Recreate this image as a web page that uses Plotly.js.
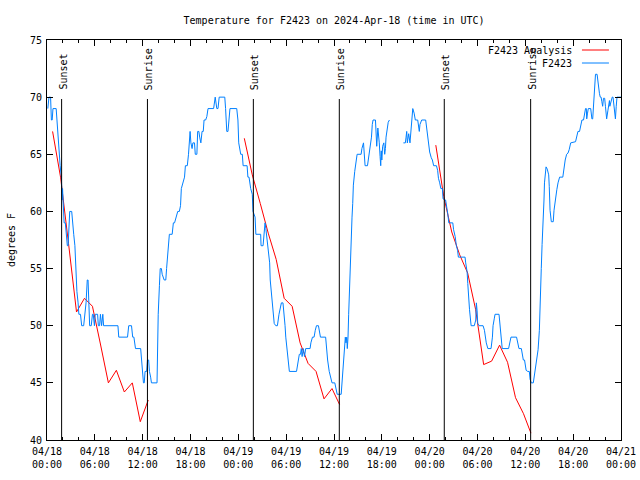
<!DOCTYPE html>
<html>
<head>
<meta charset="utf-8">
<script src="https://cdn.plot.ly/plotly-3.0.1.min.js"></script>
<style>html,body{margin:0;padding:0;background:#fff;}#chart{width:640px;height:480px;}</style>
</head>
<body>
<div id="chart"></div>
<script>
// Observed temperature (F2423), hours after 2024-04-18 00:00 UTC
const blueHours = [0.1,0.25,0.45,0.55,0.65,0.75,1.15,1.25,1.4,1.5,1.65,1.8,1.9,1.95,2.05,2.15,2.3,2.4,2.55,2.65,2.75,2.85,3.1,3.2,3.35,3.5,3.6,3.75,3.9,4.0,4.2,4.35,4.6,4.75,4.9,5.05,5.15,5.25,5.35,5.55,5.7,5.8,5.95,6.05,6.35,6.44,6.6,6.7,6.85,7.0,7.1,8.9,9.0,10.1,10.25,10.6,10.75,10.9,11.1,11.75,11.85,12.0,12.1,12.2,12.3,12.5,12.6,12.75,12.85,13.0,13.1,13.8,13.85,13.95,14.1,14.2,14.35,14.45,14.7,14.9,15.0,15.1,15.25,15.35,15.7,15.85,16.0,16.2,16.4,16.6,16.75,16.85,17.05,17.25,17.36,17.6,17.75,17.95,18.05,18.2,18.3,18.5,18.6,18.8,18.9,19.05,19.15,19.3,19.45,19.6,19.7,19.9,20.05,20.2,20.9,21.1,21.3,21.45,21.6,22.3,22.4,22.55,22.7,22.8,22.95,23.8,23.95,24.05,24.2,24.3,24.5,24.6,25.1,25.2,25.34,25.4,25.55,25.75,25.84,26.1,26.2,26.8,26.85,27.1,27.2,27.35,27.45,27.55,27.76,27.93,28.0,28.2,28.35,28.5,28.7,28.9,29.1,29.27,29.4,29.6,29.77,29.86,29.95,30.1,30.27,30.4,31.3,31.4,31.5,31.65,31.8,31.9,32.0,32.15,32.3,32.45,33.0,33.1,33.3,33.5,33.65,33.8,34.05,34.2,34.3,34.95,35.05,35.2,35.4,35.6,35.75,36.1,36.25,36.4,36.9,37.0,37.1,37.17,37.25,37.34,37.42,37.5,37.6,37.67,37.76,37.84,37.93,38.0,38.1,38.26,38.35,38.43,38.6,38.76,38.9,39.4,39.5,39.7,39.8,39.9,40.2,40.35,40.5,40.7,40.8,40.9,41.2,41.28,41.36,41.5,41.58,41.68,41.78,41.86,41.93,42.0,42.1,42.25,42.36,42.45,42.53,42.62,42.8,42.95,43.8,44.7,44.95,45.04,45.12,45.2,45.37,45.53,45.7,45.88,46.05,46.2,46.5,46.6,46.7,46.78,47.0,47.5,47.67,47.84,48.0,48.2,48.34,48.5,48.85,49.0,49.1,49.26,49.4,49.6,49.68,50.0,50.18,50.27,50.4,50.9,51.0,51.2,51.35,51.5,51.6,52.44,52.52,52.7,52.78,52.86,53.0,53.2,53.6,53.78,53.86,53.95,54.03,54.2,54.7,54.87,54.95,55.1,55.3,55.7,55.87,55.95,56.1,56.2,56.7,56.8,56.96,57.1,57.9,58.05,58.2,58.9,59.05,59.2,59.5,59.65,59.75,59.9,60.0,60.1,60.3,60.5,60.6,60.75,61.0,61.1,61.17,61.35,61.5,61.6,61.76,61.84,62.0,62.1,62.26,62.34,62.4,62.6,62.75,62.93,63.0,63.1,63.26,63.5,63.6,63.8,63.95,64.1,64.3,64.7,64.85,65.0,65.18,65.35,65.5,65.69,66.3,66.45,66.6,66.8,66.95,67.1,67.3,67.45,67.55,67.65,67.7,67.8,67.9,68.2,68.35,68.45,68.6,68.7,68.8,69.0,69.1,69.3,69.4,69.5,69.6,69.7,69.8,69.95,70.05,70.2,70.35,70.45,70.55,70.6,70.8,70.9,71.0,71.2,71.3,71.4,71.5,72.0];
const blueTemps = [69,70,70,68,68,69,69,68,66,65,64,63,61,62,60,59,59,58,57,57,59,60,60,59,58,57,55,53,52,51,51,50,50,51,52,54,54,52,50,50,51,51,50,51,51,50,50,51,50,51,50,50,49,49,50,50,49,49,48,48,47,45.5,45,45,46,46,47,47,46,45.5,45,45,48,51,53.5,55,55,54.5,54,54,55,56,57,58,58,59,59,59.5,60,60,60.5,62,62.5,63,64,64,65,67,66,65.5,66,66,65,65,67,67,66.5,66,67,67,68,68,68.3,69,69,70,69,69,70,70,69,67,67,68,69,69,68,66,65.5,65,65,64,64,63,63,62.5,62,61.5,60,59.5,58,58,57,57,58,59,58.5,57.8,56.3,55.5,54,52.5,51,50.2,50,50,51,51.5,52,52,51,50,49,48,46.7,46,46,46.5,47,47.5,47.5,48,47.3,48,47.3,48,48,48.5,49,49,49.6,50,50,49.5,49,49,48,47,46,45.3,45,45,44.5,44,44,45,45.5,46.7,47.6,48.5,49,48.5,49,48,49,51,53,55.8,57.8,59.5,60.7,62.3,63.5,64.5,65,65,65.5,66,64.8,64,64,64.8,65.5,66.5,67.6,68,68,66.5,65.7,67.3,66.8,66,64.8,64,65.3,64.5,65.7,66,65,65.5,66.5,67,67.8,68,null,66,66,66.5,67,66,66.8,66,67.7,69,68.6,68,68,67.4,67,67.6,68,68,67.1,66.2,65.2,64.7,64.5,64,64,63.6,62.9,62.5,62,62,61.1,61,60.4,59.8,59,59,58.4,57.8,57,56.6,56,56,55.5,54.7,53.7,52.4,51.4,50,50,50.5,52,51.3,50.2,50,50,49.6,49,48.5,48,48,49,50,50.6,51,51,50.2,49,48,48,48.5,49,49,48.5,48,48,47.5,47,47,46.5,46.1,46,46,45.3,45,45,45.5,46,46.7,47.3,47.9,49.6,52.5,55,57.1,59,61,62.5,63.9,63.7,63.2,62.2,60.1,59.1,59.1,60.1,61.3,61.9,62.5,63,63,63.9,64.5,65,65.1,65.4,66,66.1,66.7,67,67,67.6,68,68,68.6,69,69,68.1,68.6,69,69,68.1,68.1,69.5,71.2,72,72,71.2,70.3,70,70,69.6,69.2,69.9,69.9,69.2,68.1,68.8,69.5,69.7,69.2,69.9,70,70,69,68.1,69.2,70,70];

// Analysis (red), hours after 2024-04-18 00:00 UTC; null separates nights
const redHours = [0.7,1.7,2.7,3.7,4.7,5.7,6.7,7.7,8.7,9.7,10.7,11.7,12.7,18.0,24.75,25.75,26.75,27.75,28.75,29.75,30.75,31.75,32.75,33.75,34.75,35.75,36.7,42.0,48.77,49.77,50.77,51.77,52.77,53.77,54.77,55.77,56.77,57.77,58.77,59.77,60.7];
const redTemps = [67.0,63.0,57.2,51.2,52.4,51.7,48.4,45.0,46.1,44.2,45.0,41.6,43.5,null,66.4,63.2,60.7,58.1,55.8,52.4,51.7,48.5,46.7,46.0,43.6,44.5,43.1,null,65.8,61.3,58.2,56.2,54.6,51.4,46.6,46.9,48.3,46.8,43.7,42.3,40.6];

const sunsetTimes = ['2024-04-18 01:50','2024-04-19 01:53','2024-04-20 01:50'];
const sunriseTimes = ['2024-04-18 12:36','2024-04-19 12:40','2024-04-20 12:40'];

const seriesNames = ['F2423 Analysis','F2423'];
const seriesColors = ['#ff0000','#0080ff'];

function hToDate(h){
  const d = new Date(Date.UTC(2024,3,18) + Math.round(h*3600000));
  return d.toISOString().replace('T',' ').slice(0,19);
}

const FONT = 'DejaVu Sans Mono, Liberation Mono, monospace';

const traces = [
  {x: redHours.map(hToDate), y: redTemps, type:'scatter', mode:'lines', name: seriesNames[0],
   line:{color: seriesColors[0], width:1}, connectgaps:false, showlegend:false},
  {x: blueHours.map(hToDate), y: blueTemps, type:'scatter', mode:'lines', name: seriesNames[1],
   line:{color: seriesColors[1], width:1}, connectgaps:false, showlegend:false}
];

const shapes = [];
const annotations = [];
const lineTop = 0.8525;
function addSun(t, label){
  shapes.push({type:'line', xref:'x', yref:'paper', x0:t, x1:t, y0:0, y1:lineTop, line:{color:'#000', width:1}});
  annotations.push({x:t, xref:'x', y:0.87, yref:'paper', text:label, showarrow:false, textangle:-90,
    xanchor:'center', yanchor:'bottom', xshift:1, font:{family:FONT, size:10, color:'#000'}});
}
sunsetTimes.forEach(t=>addSun(t,'Sunset'));
sunriseTimes.forEach(t=>addSun(t,'Sunrise'));

// gnuplot-style legend: text then sample line at right
const legY = [0.975, 0.9425];
seriesNames.forEach((n,i)=>{
  annotations.push({x:0.918, xref:'paper', y:legY[i], yref:'paper', text:n, showarrow:false,
    xanchor:'right', yanchor:'middle', font:{family:FONT, size:10, color:'#000'}});
  shapes.push({type:'line', xref:'paper', yref:'paper', x0:0.932, x1:0.979, y0:legY[i], y1:legY[i],
    line:{color:seriesColors[i], width:1}});
});

const layout = {
  width:640, height:480,
  margin:{l:47, r:19, t:40, b:40},
  paper_bgcolor:'#fff', plot_bgcolor:'#fff',
  font:{family:FONT, size:10, color:'#000'},
  title:{text:'Temperature for F2423 on 2024-Apr-18 (time in UTC)', x:0.522, xanchor:'center', y:0.958, yanchor:'middle',
    font:{family:FONT, size:10, color:'#000'}},
  showlegend:false,
  xaxis:{type:'date', range:['2024-04-18 00:00','2024-04-21 00:00'], dtick:21600000, tick0:'2024-04-18 00:00',
    tickformat:'%m/%d<br>%H:%M', ticks:'inside', ticklen:6, tickcolor:'#000', showline:true, linecolor:'#000', linewidth:1,
    mirror:'ticks', showgrid:false, zeroline:false, tickfont:{family:FONT, size:10, color:'#000'}, ticklabelstandoff:2,
    minor:{dtick:7200000, ticks:'inside', ticklen:3, tickcolor:'#000', showgrid:false}},
  yaxis:{range:[40,75], dtick:5, ticks:'inside', ticklen:6, tickcolor:'#000', showline:true, linecolor:'#000', linewidth:1,
    mirror:'ticks', showgrid:false, zeroline:false, tickfont:{family:FONT, size:10, color:'#000'}, ticklabelstandoff:2,
    title:{text:'degrees F', font:{family:FONT, size:10, color:'#000'}, standoff:12}},
  shapes: shapes,
  annotations: annotations
};

Plotly.newPlot('chart', traces, layout, {staticPlot:true, displayModeBar:false});
</script>
</body>
</html>
